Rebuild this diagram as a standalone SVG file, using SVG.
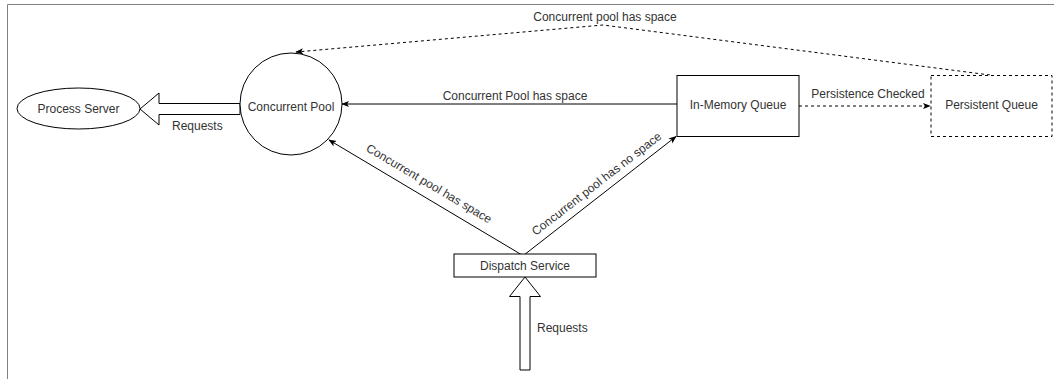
<svg xmlns="http://www.w3.org/2000/svg" width="1054" height="379" viewBox="0 0 1054 379">
<style>
.t{font-family:"Liberation Sans",Arial,sans-serif;font-size:12px;fill:#333}
.m{text-anchor:middle}
.n{fill:#fff;stroke:#000;stroke-width:1}
.c{fill:none;stroke:#000;stroke-width:1}
.d{stroke-dasharray:3 3}
</style>
<defs>
<marker id="ah" viewBox="0 0 10 10" refX="9" refY="5" markerWidth="8" markerHeight="8" markerUnits="userSpaceOnUse" orient="auto">
<path d="M0,1 L10,5 L0,9 L2.5,5 Z" fill="#000"/>
</marker>
</defs>
<rect width="1054" height="379" fill="#fff"/>
<path d="M7.5,379 V4.5 H1054" fill="none" stroke="#808080" stroke-width="1"/>
<g id="connectors">
<path class="c d" d="M990,75 L603,25 L296,52" marker-end="url(#ah)"/>
<text class="t m" x="605" y="21">Concurrent pool has space</text>
<path class="c" d="M677,104 H342" marker-end="url(#ah)"/>
<text class="t m" x="515" y="100">Concurrent Pool has space</text>
<path class="c d" d="M799,106 H930" marker-end="url(#ah)"/>
<text class="t m" x="868" y="98">Persistence Checked</text>
<path class="c" d="M522,255 L329,140" marker-end="url(#ah)"/>
<text class="t m" transform="translate(427,187) rotate(30.7)">Concurrent pool has space</text>
<path class="c" d="M524,255 L676,136.5" marker-end="url(#ah)"/>
<text class="t m" transform="translate(599,187) rotate(-37.8)">Concurrent pool has no space</text>
<path class="n" d="M240,103.5 H159 V93 L140,109 L159,125 V114.5 H240 Z"/>
<text class="t" x="172" y="130">Requests</text>
<path class="n" d="M520,370 V296.5 H509.5 L525,277 L540.5,296.5 H530 V370 Z"/>
<text class="t" x="537" y="332">Requests</text>
</g>
<g id="process-server">
<ellipse class="n" cx="78.5" cy="108.5" rx="61.5" ry="20.5"/>
<text class="t m" x="78.5" y="113">Process Server</text>
</g>
<g id="concurrent-pool">
<circle class="n" cx="291" cy="104" r="51"/>
<text class="t m" x="291" y="111">Concurrent Pool</text>
</g>
<g id="in-memory-queue">
<rect class="n" x="677" y="75.5" width="122" height="61"/>
<text class="t m" x="738" y="108.5">In-Memory Queue</text>
</g>
<g id="persistent-queue">
<rect class="n d" x="931" y="75.5" width="121" height="61"/>
<text class="t m" x="991.5" y="108.5">Persistent Queue</text>
</g>
<g id="dispatch-service">
<rect class="n" x="454" y="254" width="142" height="23"/>
<text class="t m" x="525" y="269.5">Dispatch Service</text>
</g>
</svg>
